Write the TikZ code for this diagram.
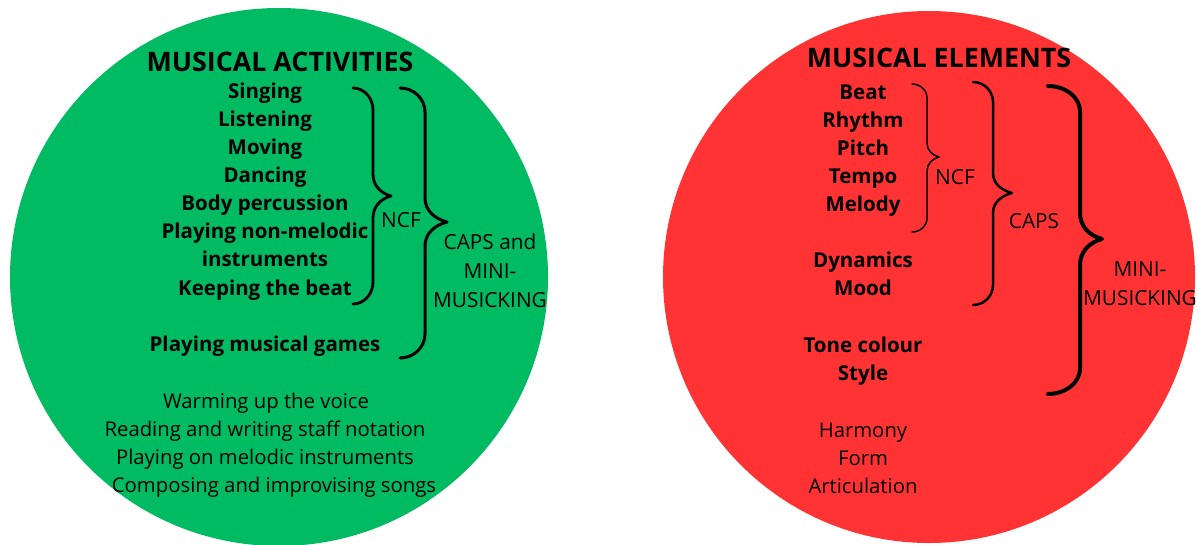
\documentclass[tikz,border=0pt]{standalone}
\usepackage{fontspec}
\setmainfont{Open Sans}
\begin{document}
\begin{tikzpicture}[x=1pt,y=-1pt,
  item/.style={font=\fontsize{20.5}{22}\selectfont\bfseries, anchor=base, inner sep=0pt},
  plain/.style={font=\fontsize{20.3}{22}\selectfont, anchor=base, inner sep=0pt},
  heading/.style={font=\fontsize{26.8}{28}\selectfont\bfseries, anchor=base, inner sep=0pt},
  tag/.style={font=\fontsize{20.8}{22}\selectfont, anchor=base, inner sep=0pt},
  curl/.style={line cap=round, line join=round}]
\definecolor{actgreen}{HTML}{00BB61}
\definecolor{elemred}{HTML}{FF3333}
\useasboundingbox (0,0) rectangle (1198,544);

% background discs
\fill[actgreen] (279,277) circle (269);
\fill[elemred] (929,277) circle (266);

% brace: {x end}{y top}{y bottom}{x spine}{x tip}{y tip}{radius}{width}
\newcommand\curlybrace[8]{%
  \draw[curl, line width=#8]
    (#1,#2) to[out=0,in=90] (#4,{#2+#7})
    -- (#4,{#6-#7}) to[out=-90,in=165] (#5,#6)
    to[out=195,in=90] (#4,{#6+#7})
    -- (#4,{#3-#7}) to[out=-90,in=0] (#1,#3);}

% ---------- musical activities ----------
\node[heading] (acttitle) at (280,71) {MUSICAL ACTIVITIES};
\foreach \t/\y [count=\i] in {Singing/91,Listening/119,Moving/147,Dancing/175,
  Body percussion/203,Playing non-melodic/231,instruments/259,Keeping the beat/288,
  Playing musical games/344}
  \node[item] (act\i) at (265,\y+7.2) {\t};
\foreach \t/\x/\y [count=\i] in {Warming up the voice/266/401,
  Reading and writing staff notation/265/429,Playing on melodic instruments/265/457,
  Composing and improvising songs/274/485}
  \node[plain] (extra\i) at (\x,\y+7.2) {\t};

\curlybrace{353}{88}{304}{373}{391}{196}{22}{2.8pt}
\curlybrace{400}{88}{358}{425}{447}{222}{24}{3pt}
\node[tag] (actncf) at (401,227.5) {NCF};
\node[tag] (actcaps) at (490,249.5) {CAPS and};
\node[tag] (actmini) at (490,278.5) {MINI-};
\node[tag] (actmusick) at (490,307.5) {MUSICKING};

% ---------- musical elements ----------
\node[heading] (elemtitle) at (939,67) {MUSICAL ELEMENTS};
\foreach \t/\y [count=\i] in {Beat/92,Rhythm/120,Pitch/148,Tempo/176,Melody/204,
  Dynamics/260,Mood/288,Tone colour/345,Style/373}
  \node[item] (elem\i) at (863,\y+7.2) {\t};
\foreach \t/\y [count=\i] in {Harmony/430,Form/458,Articulation/486}
  \node[plain] (other\i) at (863,\y+7.2) {\t};

\curlybrace{912}{84}{232}{927}{939}{157}{14}{1.5pt}
\curlybrace{973}{82}{305}{993}{1012}{193}{20}{2.5pt}
\curlybrace{1048}{86}{394}{1080}{1102}{239}{26}{4pt}
\node[tag] (elemncf) at (955,184.5) {NCF};
\node[tag] (elemcaps) at (1034,228.5) {CAPS};
\node[tag] (elemmini) at (1140,276.5) {MINI-};
\node[tag] (elemmusick) at (1140,305.5) {MUSICKING};
\end{tikzpicture}
\end{document}
